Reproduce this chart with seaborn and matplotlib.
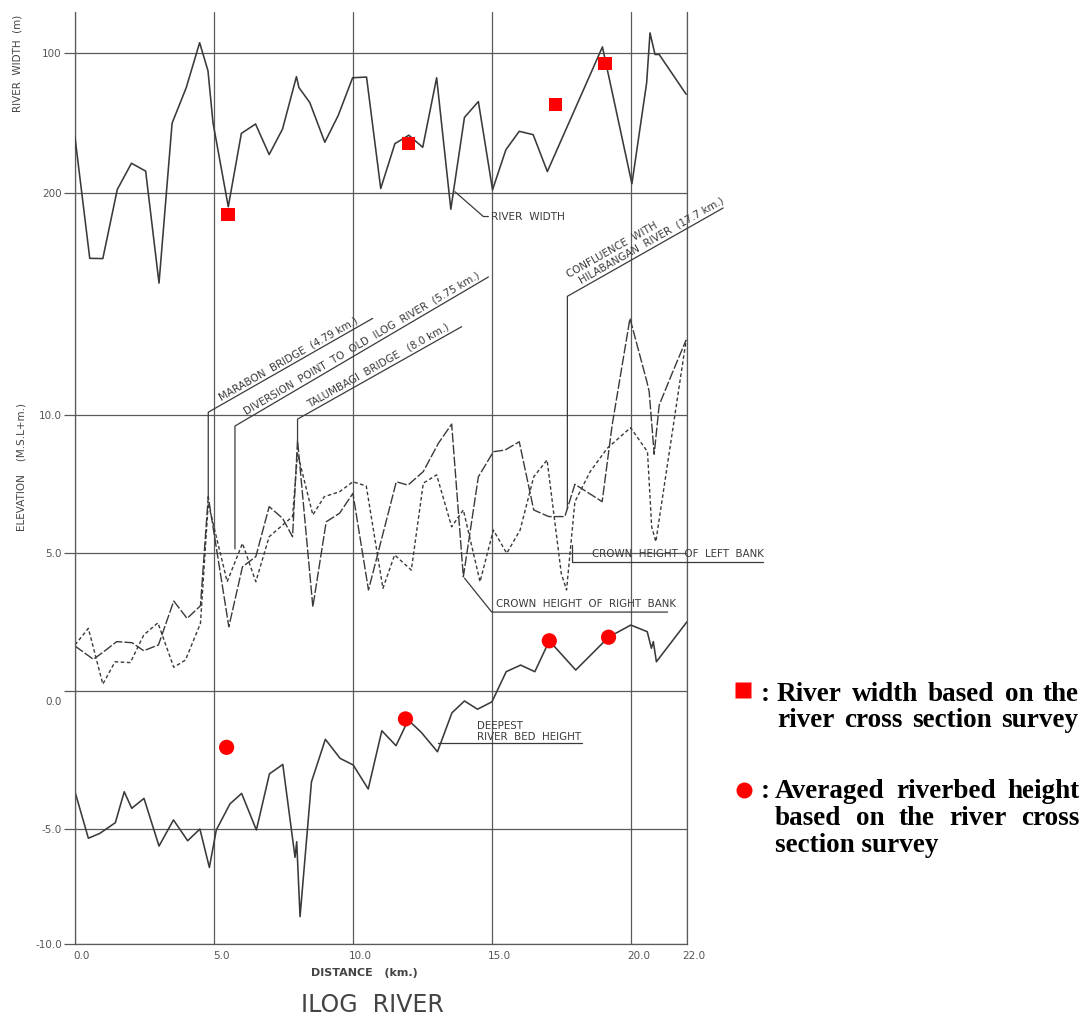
import numpy as np
import pandas as pd
import matplotlib
matplotlib.use("Agg")
import matplotlib.pyplot as plt
import matplotlib.transforms as mtransforms
from matplotlib.lines import Line2D
import seaborn as sns

# ---------------- data ----------------
# River width (m) along distance (km)
width_km = [0.0, 0.53, 1.0, 1.52, 2.03, 2.54, 3.02, 3.49, 4.0, 4.48, 4.78, 4.96, 5.51,
            5.98, 6.49, 6.98, 7.46, 7.96, 8.05, 8.44, 8.98, 9.46, 9.98, 10.48, 10.99,
            11.5, 12.0, 12.5, 13.0, 13.51, 14.0, 14.5, 15.01, 15.49, 15.97, 16.47,
            16.98, 18.96, 20.02, 20.55, 20.67, 20.85, 21.0, 21.97]
width_m = [160.5, 246.8, 247, 197.7, 179, 184.6, 264.5, 150.4, 125, 93, 113, 150, 210,
           157.7, 151, 172.8, 154.6, 117.2, 125, 135.7, 164, 145, 118, 117.5, 197,
           165, 159, 167.6, 118, 211.8, 146.3, 135, 197.9, 169.3, 156.2, 158.6,
           184.9, 96, 193.6, 121.5, 86, 101.4, 101.4, 129.8]

# Crown height of right bank (m, M.S.L.)
rb_km = [0.0, 0.66, 1.0, 1.5, 2.05, 2.47, 3.0, 3.55, 4.03, 4.51, 4.79, 5.53, 6.02, 6.5,
         6.98, 7.46, 7.82, 8.0, 8.55, 9.03, 9.51, 9.99, 10.55, 11.55, 11.97, 12.52,
         13.06, 13.54, 13.96, 14.5, 15.04, 15.46, 15.97, 16.49, 17.03, 17.61, 17.97,
         18.95, 19.31, 19.95, 20.56, 20.64, 20.82, 21.0, 21.49, 21.97]
rb_elev = [1.63, 1.15, 1.4, 1.79, 1.75, 1.46, 1.67, 3.26, 2.63, 3.09, 7.04, 2.33, 4.5,
           4.87, 6.68, 6.26, 5.59, 9.09, 3.05, 6.13, 6.44, 7.16, 3.66, 7.58, 7.46, 7.95,
           8.97, 9.67, 4.14, 7.76, 8.67, 8.73, 9.03, 6.56, 6.32, 6.32, 7.49,
           6.86, 9.64, 13.5, 11.2, 10.85, 8.58, 10.36, 11.57, 12.72]

# Crown height of left bank (m, M.S.L.)
lb_km = [0.0, 0.48, 1.0, 1.44, 1.99, 2.47, 2.98, 3.55, 3.97, 4.51, 4.79, 5.47, 6.02,
         6.5, 6.98, 7.46, 7.82, 8.0, 8.55, 8.96, 9.51, 9.99, 10.47, 11.07, 11.49,
         12.09, 12.52, 13.0, 13.54, 13.96, 14.56, 15.04, 15.52, 16.0, 16.49, 16.97,
         17.48, 17.67, 17.97, 18.52, 19.13, 19.97, 20.58, 20.73, 20.88, 21.97]
lb_elev = [1.67, 2.27, 0.25, 1.06, 1.03, 2.03, 2.47, 0.86, 1.12, 2.45, 6.8, 3.96, 5.35,
           3.96, 5.59, 6.01, 6.32, 8.61, 6.38, 7.04, 7.22, 7.58, 7.43, 3.72, 4.93,
           4.38, 7.53, 7.83, 5.95, 6.56, 3.96, 5.83, 4.99, 5.83, 7.76, 8.37,
           4.26, 3.66, 6.86, 7.95, 8.79, 9.54, 8.67, 5.95, 5.41, 12.72]

# Deepest river bed height (m, M.S.L.)
bed_km = [0.0, 0.48, 0.89, 1.45, 1.77, 2.04, 2.48, 3.02, 3.54, 4.05, 4.49, 4.83, 5.08,
          5.57, 5.99, 6.52, 6.99, 7.47, 7.91, 7.97, 8.09, 8.5, 9.0, 9.53, 10.0, 10.54,
          11.03, 11.54, 11.98, 12.45, 13.03, 13.55, 14.0, 14.47, 14.99, 15.5, 16.02,
          16.53, 17.05, 18.0, 19.18, 19.98, 20.57, 20.72, 20.79, 20.9, 22.0]
bed_elev = [-3.65, -5.40, -5.19, -4.77, -3.65, -4.25, -3.89, -5.74, -4.67, -5.51, -5.0,
            -6.67, -5.04, -4.09, -3.71, -5.04, -3.0, -2.66, -6.23, -5.55, -8.81, -3.29,
            -1.75, -2.44, -2.68, -3.55, -1.44, -1.98, -1.05, -1.5, -2.2, -0.79, -0.36,
            -0.66, -0.39, 0.70, 0.94, 0.70, 1.82, 0.76, 1.95, 2.39, 2.15, 1.55, 1.79,
            1.06, 2.51]

# Survey points (red markers)
survey_width_km = [5.5, 11.98, 17.28, 19.05]
survey_width_m = [215.4, 165, 137, 107.8]
survey_bed_km = [5.45, 11.88, 17.05, 19.18]
survey_bed_elev = [-2.04, -1.01, 1.82, 1.95]

# ticks
x_ticks = [0, 5, 10, 15, 20, 22]
x_tick_labels = ["0.0", "5.0", "10.0", "15.0", "20.0", "22.0"]
elev_ticks = [10, 5, 0, -5, -10]
elev_tick_labels = ["10.0", "5.0", "0.0", "-5.0", "-10.0"]
width_ticks = [100, 200]
width_tick_labels = ["100", "200"]

# ---------------- style ----------------
sns.set_theme(style="white")
plt.rcParams["font.family"] = ["DejaVu Sans"]

W, H = 1083, 1017
fig = plt.figure(figsize=(W / 100, H / 100), dpi=100)
fig.patch.set_facecolor("white")

LINE = "#3a3a3a"
GRID = "#5a5a5a"
TXT = "#3a3a3a"
RED = "#ff0000"


def frac(x0, y0, x1, y1):
    return [x0 / W, 1 - y1 / H, (x1 - x0) / W, (y1 - y0) / H]


ax = fig.add_axes(frac(75, 12, 687, 944))
ax.set_facecolor("white")

# elevation axis: the original drawing compresses the -5..-10 band
K = 0.833


def fwd(y):
    y = np.asarray(y, dtype=float)
    return np.where(y >= -5, y, -5 + (y + 5) * K)


def inv(z):
    z = np.asarray(z, dtype=float)
    return np.where(z >= -5, z, -5 + (z + 5) / K)


ax.set_yscale("function", functions=(fwd, inv))

sns.lineplot(x=bed_km, y=bed_elev, ax=ax, color=LINE, linewidth=1.15,
             sort=False, estimator=None)
sns.lineplot(x=rb_km, y=rb_elev, ax=ax, color=LINE, linewidth=1.0,
             sort=False, estimator=None, linestyle=(0, (7, 1.6)))
sns.lineplot(x=lb_km, y=lb_elev, ax=ax, color=LINE, linewidth=1.0,
             sort=False, estimator=None, linestyle=(0, (2.6, 1.8)))
sns.scatterplot(x=survey_bed_km, y=survey_bed_elev, ax=ax, marker="o", s=120,
                color=RED, edgecolor="none", zorder=6)

ax.set_xlim(0, 22)
ax.set_ylim(-10, 24.6)

ax2 = ax.twinx()
sns.lineplot(x=width_km, y=width_m, ax=ax2, color=LINE, linewidth=1.15,
             sort=False, estimator=None)
sns.scatterplot(x=survey_width_km, y=survey_width_m, ax=ax2, marker="s", s=90,
                color=RED, edgecolor="none", zorder=6)
ax2.set_ylim(735.9, 71.1)
ax.set_xlim(0, 22)

# ticks & grid
ax.set_xticks(x_ticks)
ax.set_xticklabels(x_tick_labels)
ax.set_yticks(elev_ticks)
ax.set_yticklabels(elev_tick_labels)
ax2.set_yticks(width_ticks)
ax2.set_yticklabels(width_tick_labels)
ax2.yaxis.tick_left()

ax.tick_params(axis="y", left=True, direction="out", length=8, width=0.9,
               color=GRID, pad=1.5, labelsize=7.5, labelcolor="#555555")
ax2.tick_params(axis="y", left=True, right=False, labelleft=True, labelright=False,
                direction="out", length=8, width=0.9, color=GRID, pad=1.5,
                labelsize=7.5, labelcolor="#555555")
ax.tick_params(axis="x", bottom=True, length=0, pad=5, labelsize=7.5,
               labelcolor="#555555")
off = mtransforms.ScaledTranslation(5 / 72, 0, fig.dpi_scale_trans)
for lab in ax.get_xticklabels():
    lab.set_transform(lab.get_transform() + off)
# the "0.0" elevation label sits just below its line in the original
for lab in ax.get_yticklabels():
    if lab.get_text() == "0.0":
        lab.set_transform(lab.get_transform() +
                          mtransforms.ScaledTranslation(0, -7 / 72, fig.dpi_scale_trans))

ax.grid(True, color=GRID, linewidth=0.9)
ax2.grid(True, axis="y", color=GRID, linewidth=0.9)
ax2.grid(False, axis="x")
for s in ["left", "right", "bottom"]:
    ax.spines[s].set_color(GRID)
    ax.spines[s].set_linewidth(0.9)
ax.spines["top"].set_visible(False)
for s in ax2.spines.values():
    s.set_visible(False)
ax.set_xlabel("")
ax.set_ylabel("")
ax2.set_ylabel("")

# ---------------- annotations ----------------
ANN = dict(color=TXT, fontsize=7.4, family="DejaVu Sans")


def leader(axis, xs, ys):
    axis.plot(xs, ys, color=LINE, linewidth=0.9, clip_on=False, zorder=4)


def diag_text(axis, p0, p1, text, along, perp, size=7.4):
    a = axis.transData.transform(p0)
    b = axis.transData.transform(p1)
    d = b - a
    u = d / np.hypot(*d)
    n = np.array([-u[1], u[0]])
    pos = a + u * along + n * perp
    ang = np.degrees(np.arctan2(d[1], d[0]))
    fig.text(pos[0], pos[1], text, transform=mtransforms.IdentityTransform(),
             rotation=ang, rotation_mode="anchor", ha="left", va="bottom",
             color=TXT, fontsize=size)


# Marabon bridge
leader(ax, [4.79, 4.79, 10.7], [7.0, 10.1, 13.5])
diag_text(ax, (4.79, 10.1), (10.7, 13.5), "MARABON  BRIDGE  (4.79 km.)", 17, 2)
# Diversion point
leader(ax, [5.75, 5.75, 14.86], [5.15, 9.6, 15.0])
diag_text(ax, (5.75, 9.6), (14.86, 15.0),
          "DIVERSION  POINT  TO  OLD  ILOG  RIVER  (5.75 km.)", 15, 2)
# Talumbagi bridge
leader(ax, [8.0, 8.0, 13.9], [9.1, 9.85, 13.2])
diag_text(ax, (8.0, 9.85), (13.9, 13.2), "TALUMBAGI  BRIDGE   (8.0 km.)", 16, 2)
# Confluence
leader(ax, [17.7, 17.7, 23.3], [6.6, 14.3, 17.5])
diag_text(ax, (17.7, 14.3), (23.3, 17.5), "HILABANGAN  RIVER  (17.7 km.)", 18, 2)
diag_text(ax, (17.7, 14.3), (23.3, 17.5), "CONFLUENCE  WITH", 10, 13)
# River width
leader(ax2, [13.66, 14.68, 14.86], [199.3, 217, 217])
ax2.text(14.95, 217, "RIVER  WIDTH", ha="left", va="center", **{**ANN, "fontsize": 7.6})
# Right bank
leader(ax, [14.0, 14.98, 21.3], [4.09, 2.86, 2.86])
ax.text(15.12, 2.98, "CROWN  HEIGHT  OF  RIGHT  BANK", ha="left", va="bottom", **ANN)
# Left bank
leader(ax, [17.87, 17.87, 24.73], [5.3, 4.67, 4.67])
ax.text(18.6, 4.8, "CROWN  HEIGHT  OF  LEFT  BANK", ha="left", va="bottom",
        clip_on=False, **ANN)
# Deepest river bed
leader(ax, [13.05, 18.24], [-1.9, -1.9])
ax.text(14.44, -1.78, "RIVER  BED  HEIGHT", ha="left", va="baseline", **ANN)
ax.text(14.44, -1.36, "DEEPEST", ha="left", va="baseline", **ANN)

# axis titles
fig.text(22 / W, 1 - 467 / H, "ELEVATION    (M.S.L+m.)", rotation=90, ha="center",
         va="center", color="#444444", fontsize=7.5)
fig.text(18 / W, 1 - 112 / H, "RIVER  WIDTH  (m)", rotation=90, ha="center",
         va="bottom", color="#444444", fontsize=7.5)
fig.text(364 / W, 1 - 973 / H, "DISTANCE   (km.)", ha="center", va="center",
         color="#444444", fontsize=8, fontweight="bold")
fig.text(372 / W, 1 - 1005 / H, "ILOG  RIVER", ha="center", va="center",
         color="#444444", fontsize=17)

# ---------------- legend (right side) ----------------
fig.add_artist(Line2D([743 / W], [1 - 689.5 / H], marker="s", markersize=12.2,
                      color=RED, markeredgecolor="none", linestyle="none",
                      transform=fig.transFigure))
fig.add_artist(Line2D([743.5 / W], [1 - 789.5 / H], marker="o", markersize=11.5,
                      color=RED, markeredgecolor="none", linestyle="none",
                      transform=fig.transFigure))

LEG = dict(family="Liberation Serif", fontweight="bold", fontsize=19.5, color="black")
renderer = fig.canvas.get_renderer()


def leg_line(text, x0, x1, baseline, justify):
    words = text.split()
    if not justify:
        fig.text(x0 / W, 1 - baseline / H, text, ha="left", va="baseline", **LEG)
        return
    arts = [fig.text(0, 0, w, ha="left", va="baseline", **LEG) for w in words]
    widths = [a.get_window_extent(renderer).width for a in arts]
    gap = ((x1 - x0) - sum(widths)) / (len(words) - 1)
    x = x0
    for a, w in zip(arts, widths):
        a.set_position((x / W, 1 - baseline / H))
        x += w + gap


fig.text(761 / W, 1 - 700.7 / H, ":", ha="left", va="baseline", **LEG)
leg_line("River width based on the", 777, 1079, 700.7, True)
leg_line("river cross section survey", 777, 1078, 726.7, True)
fig.text(761 / W, 1 - 798 / H, ":", ha="left", va="baseline", **LEG)
leg_line("Averaged riverbed height", 775, 1079, 798, True)
leg_line("based on the river cross", 775, 1079, 825, True)
leg_line("section survey", 775, 1079, 851.7, False)

fig.savefig("out.png", dpi=100, facecolor="white")
